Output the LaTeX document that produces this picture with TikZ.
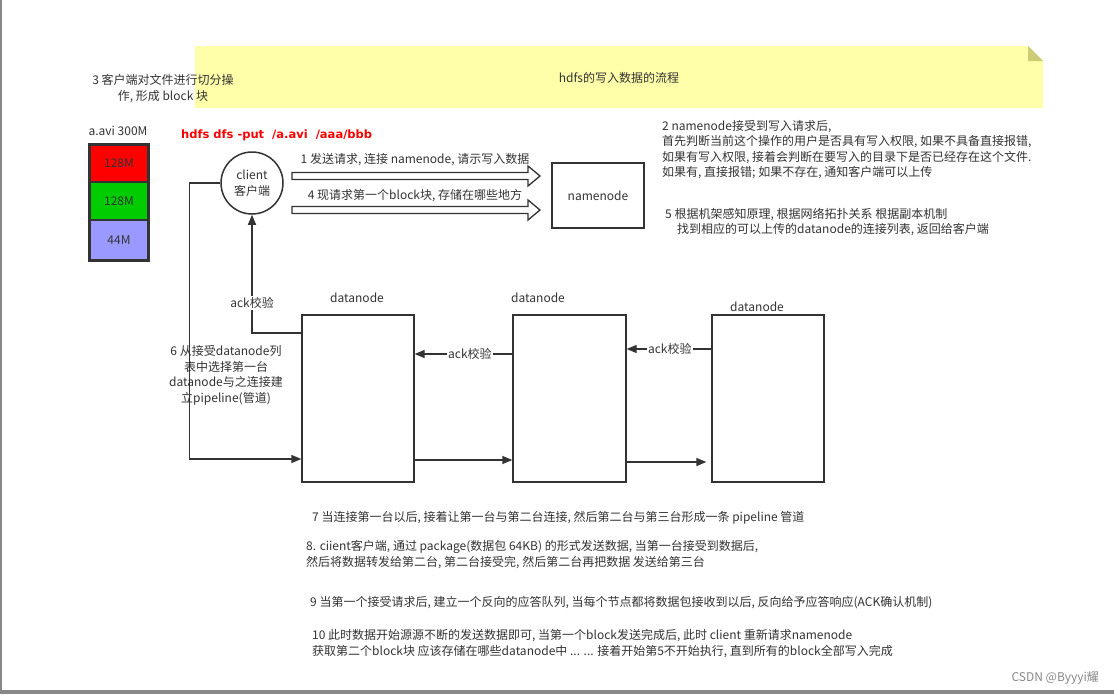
\documentclass[tikz,border=0pt]{standalone}
\usepackage{fontspec}
\setmainfont{Noto Sans CJK SC}
\newfontfamily\cmdfont{DejaVu Sans}
\usetikzlibrary{arrows.meta,calc}
\definecolor{ink}{HTML}{333333}
\definecolor{notey}{HTML}{FFFFAA}
\definecolor{fold}{HTML}{CCCC77}
\definecolor{blkred}{HTML}{FF0000}
\definecolor{blkgreen}{HTML}{00CC00}
\definecolor{blkblue}{HTML}{9999FF}
\definecolor{edge}{HTML}{888888}
\tikzset{
  txt/.style={inner sep=0pt, text=ink, font=\fontsize{12}{15.5}\selectfont},
  boxnode/.style={draw=ink, line width=1.3pt, fill=white, txt},
  blk/.style={draw=ink, line width=1.8pt, minimum width=58pt, txt},
  conn/.style={draw=ink, line width=1.3pt, -{Triangle[length=10pt,width=8pt]}},
  hollow/.style={draw=ink, line width=1.3pt, fill=white, line join=miter},
  lbl/.style={txt, fill=white, inner sep=1pt},
}
\begin{document}
\begin{tikzpicture}[x=1pt,y=-1pt]
\useasboundingbox (0,0) rectangle (1114,694);
\fill[white] (0,0) rectangle (1114,694);
% frame edges
\fill[edge] (0,0) rectangle (1.5,694);
\fill[edge] (0,690) rectangle (1114,694);
% yellow note
\fill[notey] (195,46) -- (1028,46) -- (1043,61) -- (1043,108) -- (195,108) -- cycle;
\fill[fold] (1028,46) -- (1043,61) -- (1028,61) -- cycle;
\node[txt] (title) at (619,78) {hdfs的写入数据的流程};
% step 3 text
\node[txt, align=center] (t3) at (163,88.5) {3 客户端对文件进行切分操\\作, 形成 block 块};
% file blocks
\node[txt] (fname) at (118,131) {a.avi 300M};
\node[blk, fill=blkred, minimum height=37pt] (b1) at (119,163.5) {128M};
\node[blk, fill=blkgreen, minimum height=38pt] (b2) at (119,201) {128M};
\node[blk, fill=blkblue, minimum height=40pt] (b3) at (119,240) {44M};
\draw[ink, line width=2pt] (b1.north west) rectangle (b3.south east);
% command
\node[anchor=west, inner sep=0pt, text=blkred, font=\cmdfont\bfseries\fontsize{11.5}{14}\selectfont] (cmd) at (181,135) {hdfs dfs -put\ \ /a.avi\ \ /aaa/bbb};
% client
\node[circle, draw=ink, line width=1.5pt, minimum size=62pt, align=center, txt] (client) at (252,183) {client\\客户端};
% namenode
\node[boxnode, minimum width=92pt, minimum height=65pt] (nn) at (598,195.5) {namenode};
% hollow arrows
\draw[hollow] (292,172.5) -- (528,172.5) -- (528,166) -- (540,176) -- (528,186) -- (528,179.5) -- (292,179.5) -- cycle;
\draw[hollow] (292,206.5) -- (528,206.5) -- (528,200) -- (540,210) -- (528,220) -- (528,213.5) -- (292,213.5) -- cycle;
\node[txt] (l1) at (415,160) {1 发送请求, 连接 namenode, 请示写入数据};
\node[txt] (l4) at (415,196) {4 现请求第一个block块, 存储在哪些地方};
% step 2 and 5
\node[txt, anchor=west, align=left] (t2) at (662,149.5) {2 namenode接受到写入请求后,\\首先判断当前这个操作的用户是否具有写入权限, 如果不具备直接报错,\\如果有写入权限, 接着会判断在要写入的目录下是否已经存在这个文件.\\如果有, 直接报错; 如果不存在, 通知客户端可以上传};
\node[txt, anchor=west, align=left] (t5) at (665,222) {5 根据机架感知原理, 根据网络拓扑关系 根据副本机制\\\hspace*{12pt}找到相应的可以上传的datanode的连接列表, 返回给客户端};
% datanodes
\node[boxnode, minimum width=112pt, minimum height=167pt] (dn1) at (358,398.5) {};
\node[boxnode, minimum width=113pt, minimum height=167pt] (dn2) at (569.5,398.5) {};
\node[boxnode, minimum width=112pt, minimum height=167pt] (dn3) at (768,398.5) {};
\node[txt] (dl1) at (357,298) {datanode};
\node[txt] (dl2) at (538,298) {datanode};
\node[txt] (dl3) at (757,307) {datanode};
% connectors
\draw[conn] (client.west) -- ++(-31,0) |- ($(dn1.west)+(0,60.5)$);
\draw[conn] ($(dn1.west)+(0,-65.5)$) -| (client.south);
\node[lbl] (ack1) at (252,303) {ack校验};
\draw[conn] ($(dn2.west)+(0,-44.5)$) -- node[lbl, pos=0.434] (ack2) {ack校验} ($(dn1.east)+(0,-44.5)$);
\draw[conn] ($(dn3.west)+(0,-49.5)$) -- node[lbl, pos=0.49] (ack3) {ack校验} ($(dn2.east)+(0,-49.5)$);
\draw[conn] ($(dn1.east)+(0,61.5)$) -- ($(dn2.west)+(0,61.5)$);
\draw[conn, shorten >=5pt] ($(dn2.east)+(0,63.5)$) -- ($(dn3.west)+(0,63.5)$);
% step 6
\node[txt, align=center] (t6) at (226,375.5) {6 从接受datanode列\\表中选择第一台\\datanode与之连接建\\立pipeline(管道)};
% steps 7-10
\node[txt, anchor=west] (t7) at (312,518) {7 当连接第一台以后, 接着让第一台与第二台连接, 然后第二台与第三台形成一条 pipeline 管道};
\node[txt, anchor=west, align=left] (t8) at (306,554.5) {8. ciient客户端, 通过 package(数据包 64KB) 的形式发送数据, 当第一台接受到数据后,\\然后将数据转发给第二台, 第二台接受完, 然后第二台再把数据 发送给第三台};
\node[txt, anchor=west] (t9) at (310,603) {9 当第一个接受请求后, 建立一个反向的应答队列, 当每个节点都将数据包接收到以后, 反向给予应答响应(ACK确认机制)};
\node[txt, anchor=west, align=left] (t10) at (312,643.5) {10 此时数据开始源源不断的发送数据即可, 当第一个block发送完成后, 此时 client 重新请求namenode\\获取第二个block块 应该存储在哪些datanode中 ... ... 接着开始第5不开始执行, 直到所有的block全部写入完成};
% watermark
\node[anchor=east, inner sep=0pt, text=edge, font=\fontsize{12}{14}\selectfont] (wm) at (1099,678) {CSDN @Byyyi耀};
\end{tikzpicture}
\end{document}
